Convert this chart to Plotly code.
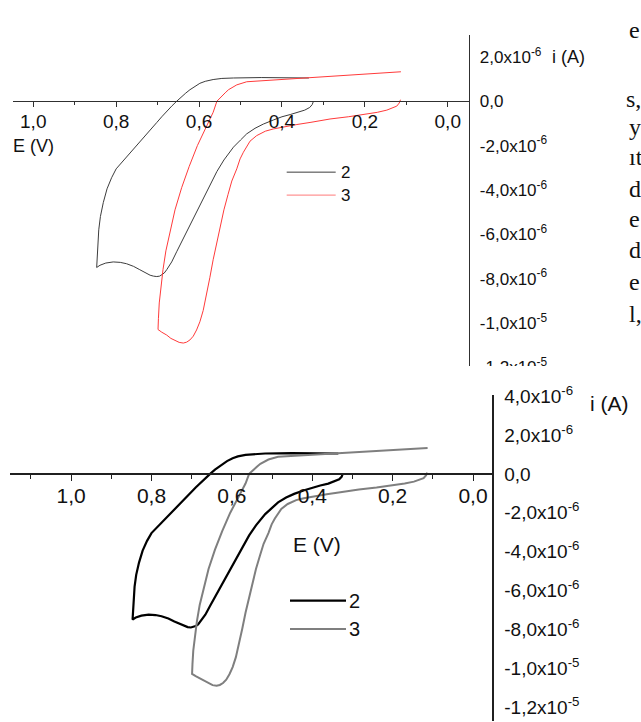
import numpy as np
import plotly.graph_objects as go

# Cyclic voltammograms, curves 2 and 3: potential E (V) and current i (µA)
E2 = [0.335, 0.38, 0.45, 0.517, 0.545, 0.566, 0.585, 0.598, 0.612, 0.622, 0.632, 0.642, 0.654,
      0.666, 0.678, 0.690, 0.702, 0.718, 0.735, 0.759, 0.783, 0.800, 0.811, 0.822, 0.831, 0.838,
      0.842, 0.845, 0.847,
      0.839, 0.825, 0.807, 0.790, 0.775, 0.758, 0.743, 0.730, 0.718, 0.710, 0.702, 0.695, 0.690,
      0.684, 0.678, 0.666, 0.654, 0.638, 0.622, 0.606, 0.590, 0.574, 0.557, 0.540, 0.517, 0.500,
      0.485, 0.465, 0.445, 0.420, 0.400, 0.380, 0.360, 0.345, 0.333, 0.327, 0.324]
I2_uA = [1.05, 1.07, 1.07, 1.05, 1.03, 0.98, 0.90, 0.81, 0.66, 0.52, 0.37, 0.22, 0.0,
         -0.22, -0.44, -0.70, -0.96, -1.30, -1.62, -2.14, -2.65, -3.05, -3.45, -3.95, -4.57, -5.2,
         -5.8, -6.6, -7.5,
         -7.40, -7.30, -7.25, -7.27, -7.33, -7.45, -7.60, -7.73, -7.85, -7.89, -7.91, -7.89, -7.84,
         -7.75, -7.60, -7.25, -6.79, -6.20, -5.60, -4.98, -4.42, -3.80, -3.17, -2.65, -2.07, -1.75,
         -1.47, -1.22, -1.03, -0.84, -0.70, -0.60, -0.50, -0.40, -0.28, -0.15, 0.0]

E3 = [0.113, 0.170, 0.241, 0.300, 0.340, 0.381, 0.437, 0.485, 0.509, 0.520, 0.529, 0.537, 0.545,
      0.557, 0.566, 0.584, 0.604, 0.624, 0.642, 0.658, 0.670, 0.680, 0.687, 0.692, 0.696, 0.698,
      0.699,
      0.690, 0.678, 0.668, 0.658, 0.648, 0.638, 0.630, 0.622, 0.614, 0.606, 0.598, 0.590, 0.582,
      0.574, 0.566, 0.557, 0.549, 0.540, 0.530, 0.521, 0.509, 0.501, 0.493, 0.477, 0.461, 0.440,
      0.421, 0.400, 0.364, 0.330, 0.284, 0.240, 0.204, 0.170, 0.147, 0.135, 0.123, 0.117, 0.114]
I3_uA = [1.33, 1.26, 1.19, 1.12, 1.08, 1.03, 0.96, 0.88, 0.74, 0.64, 0.52, 0.38, 0.22,
         0.0, -0.50, -1.20, -2.00, -2.95, -3.90, -4.90, -5.85, -6.75, -7.60, -8.30, -9.10, -9.80,
         -10.30,
         -10.42, -10.55, -10.70, -10.80, -10.88, -10.91, -10.87, -10.77, -10.60, -10.32, -9.95, -9.44,
         -8.75, -7.96, -7.15, -6.34, -5.60, -4.90, -4.20, -3.60, -3.05, -2.60, -2.30, -1.80, -1.55,
         -1.35, -1.25, -1.17, -1.05, -0.95, -0.80, -0.70, -0.60, -0.50, -0.40, -0.32, -0.22, -0.08,
         0.07]

# Axis tick values
E_ticks = [1.0, 0.8, 0.6, 0.4, 0.2, 0.0]
E_minor = [1.1, 0.9, 0.7, 0.5, 0.3, 0.1]
i_ticks_top = [2e-6, 0.0, -2e-6, -4e-6, -6e-6, -8e-6, -1e-5, -1.2e-5]
i_text_top = ["2,0x10<sup>-6</sup>", "0,0", "-2,0x10<sup>-6</sup>", "-4,0x10<sup>-6</sup>",
              "-6,0x10<sup>-6</sup>", "-8,0x10<sup>-6</sup>", "-1,0x10<sup>-5</sup>",
              "-1,2x10<sup>-5</sup>"]
i_ticks_bot = [4e-6] + i_ticks_top
i_text_bot = ["4,0x10<sup>-6</sup>"] + i_text_top

# Words of the page text running beside the upper chart
side_words = ["e", "s,", "y", "ıt", "d", "e", "d", "e", "l,"]
side_rows = [17, 88, 116, 147, 179, 210, 242, 274, 307]
side_cols = [627, 624, 627, 627, 627, 627, 627, 627, 627]

W, H = 641, 722


def px(x):
    return x / W


def py(y):
    return 1 - y / H


i2 = np.array(I2_uA) * 1e-6
i3 = np.array(I3_uA) * 1e-6

fig = go.Figure()

# upper panel: thin dark grey and red
fig.add_trace(go.Scatter(x=E2, y=i2, mode="lines", line=dict(color="#3c3c3c", width=1),
                         xaxis="x", yaxis="y", showlegend=False))
fig.add_trace(go.Scatter(x=E3, y=i3, mode="lines", line=dict(color="#ff3a3a", width=1),
                         xaxis="x", yaxis="y", showlegend=False))
# lower panel: thicker black and grey
fig.add_trace(go.Scatter(x=E2, y=i2, mode="lines", line=dict(color="#000000", width=2.2),
                         xaxis="x2", yaxis="y2", showlegend=False))
fig.add_trace(go.Scatter(x=E3, y=i3, mode="lines", line=dict(color="#7f7f7f", width=2),
                         xaxis="x2", yaxis="y2", showlegend=False))

font = "Liberation Sans, Arial, sans-serif"

xcommon = dict(showgrid=False, zeroline=False, showline=True, ticks="outside",
               tickvals=E_ticks, ticktext=[f"{v:.1f}".replace(".", ",") for v in E_ticks],
               fixedrange=True, anchor="free")

fig.update_layout(
    width=W, height=H, margin=dict(l=0, r=0, t=0, b=0),
    paper_bgcolor="white", plot_bgcolor="white",
    xaxis=dict(xcommon, domain=[px(12.7), px(469.3)], range=[1.0496, -0.052],
               position=py(90), linecolor="#303030", linewidth=1.3,
               ticklen=5, tickwidth=1, tickcolor="#303030", ticklabelstandoff=-2,
               minor=dict(tickmode="array", tickvals=E_minor, ticklen=3, ticks="outside",
                          tickcolor="#303030", tickwidth=1),
               tickfont=dict(family=font, size=19, color="#111")),
    yaxis=dict(domain=[py(370), py(22.7)], range=[-12.389e-6, 2.978e-6], anchor="free",
               position=px(469.3), side="right", showline=True, linecolor="#303030",
               linewidth=1.3, showgrid=False, zeroline=False, ticks="",
               tickvals=i_ticks_top, ticktext=i_text_top, ticklabelstandoff=6,
               tickfont=dict(family=font, size=17, color="#111"), fixedrange=True),
    xaxis2=dict(xcommon, domain=[px(10), px(492.7)], range=[1.152, -0.049],
                position=py(470), linecolor="#202020", linewidth=1.5,
                ticklen=6, tickwidth=1.2, tickcolor="#202020", ticklabelstandoff=-3,
                minor=dict(tickmode="array", tickvals=E_minor, ticklen=4, ticks="outside",
                           tickcolor="#202020", tickwidth=1.2),
                tickfont=dict(family=font, size=21, color="#111")),
    yaxis2=dict(domain=[0, py(390)], range=[-12.727e-6, 4.04e-6], anchor="free",
                position=px(492.7), side="right", showline=True, linecolor="#202020",
                linewidth=1.5, showgrid=False, zeroline=False, ticks="",
                tickvals=i_ticks_bot, ticktext=i_text_bot, ticklabelstandoff=7,
                tickfont=dict(family=font, size=19, color="#111"), fixedrange=True),
)

shapes = []
annotations = []

# the upper chart is cut off just below its lowest tick label
shapes.append(dict(type="rect", xref="paper", yref="paper", x0=px(455), x1=1,
                   y0=py(373), y1=py(360), fillcolor="white", line=dict(width=0),
                   layer="above"))

# legend keys drawn by hand
for y, col, w in [(162.3, "#3c3c3c", 1), (185.7, "#ff7a7a", 1)]:
    shapes.append(dict(type="line", xref="paper", yref="paper", x0=px(286.7), x1=px(335.7),
                       y0=py(y), y1=py(y), line=dict(color=col, width=w)))
for y, col, w in [(599.3, "#000000", 2.2), (628.3, "#7f7f7f", 2)]:
    shapes.append(dict(type="line", xref="paper", yref="paper", x0=px(290), x1=px(346),
                       y0=py(y), y1=py(y), line=dict(color=col, width=w)))


def label(text, x, y, size, family=font, xanchor="left"):
    annotations.append(dict(text=text, x=px(x), y=py(y), xref="paper", yref="paper",
                            xanchor=xanchor, yanchor="middle", showarrow=False,
                            font=dict(family=family, size=size, color="#111")))


label("2", 339, 162.3, 17)
label("3", 339, 185.7, 17)
label("2", 347, 599.3, 20)
label("3", 347, 628.3, 20)

label("E (V)", 11, 136, 18)
label("i (A)", 550, 45, 18)
label("E (V)", 291, 542, 21)
label("i (A)", 588, 398, 21)

for w, y, x in zip(side_words, side_rows, side_cols):
    label(w, x, y, 24, family="Liberation Serif, Times New Roman, serif")

fig.update_layout(shapes=shapes, annotations=annotations)

fig.write_html("out.html")
